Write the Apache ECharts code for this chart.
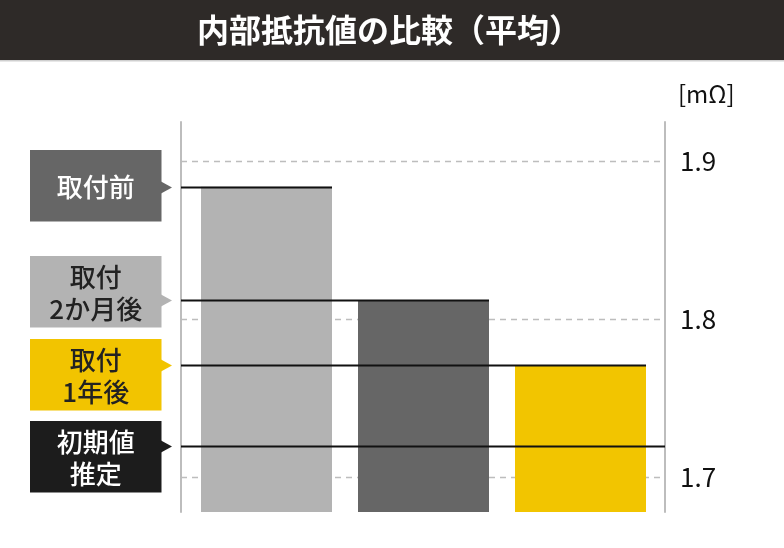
<!DOCTYPE html>
<html>
<head>
<meta charset="utf-8">
<script src="https://cdn.jsdelivr.net/npm/echarts@6/dist/echarts.min.js"></script>
<style>
html,body{margin:0;padding:0;background:#fff;}
#main{width:784px;height:548px;}
</style>
</head>
<body>
<div id="main"></div>
<script>
// ---- data ----
const titleText = '内部抵抗値の比較（平均）';
const categories = ['取付前', '取付2か月後', '取付1年後'];
const values = [1.884, 1.812, 1.771];
const initialValue = 1.72;
const tickValues = [1.7, 1.8, 1.9];
const unitLabel = '[mΩ]';
const boxLabels = ['取付前', '取付\n2か月後', '取付\n1年後', '初期値\n推定'];

// ---- styles ----
const FONT = '"Noto Sans CJK JP", "Noto Sans", sans-serif';
const barColors = ['#b3b3b3', '#666666', '#f2c500'];
const boxColors = ['#666666', '#b3b3b3', '#f2c400', '#1c1c1c'];
const boxTextColors = ['#ffffff', '#222222', '#222222', '#ffffff'];
const boxTops = [150, 256, 339, 421];
const BOX_H = 71.5, BOX_X = 30, BOX_W = 131.5;
const BAR_W = 131;
const LEFT_OFF = 7, RIGHT_OFF = 6;

const chart = echarts.init(document.getElementById('main'));

const graphics = [
  {type:'rect', shape:{x:0,y:0,width:784,height:60}, style:{fill:'#2e2a28'}, z:0},
  {type:'rect', shape:{x:0,y:60,width:784,height:1.5}, style:{fill:'#cfcfcf'}, z:0},
  {type:'text', x:389, y:30, style:{text:titleText, fill:'#ffffff', font:'bold 32px ' + FONT, align:'center', verticalAlign:'middle'}, z:1}
];
boxLabels.forEach((t, i) => {
  graphics.push({type:'rect', shape:{x:BOX_X, y:boxTops[i], width:BOX_W, height:BOX_H}, style:{fill:boxColors[i]}, z:1});
  graphics.push({type:'text', x:BOX_X + BOX_W/2, y:boxTops[i] + BOX_H/2 + 1,
    style:{text:t, fill:boxTextColors[i], font:'500 26px ' + FONT, align:'center', verticalAlign:'middle', lineHeight:32}, z:2});
});

const refData = values.map((v, i) => [i, v, i]);
refData.push([0, initialValue, 3]);

chart.setOption({
  animation: false,
  graphic: graphics,
  grid: {left: 188, right: 125, top: 122, bottom: 36},
  xAxis: {
    type: 'category', data: categories,
    axisLine: {show:false}, axisTick: {show:false}, axisLabel: {show:false}, splitLine:{show:false}
  },
  yAxis: [{
    type: 'value', position: 'right', offset: RIGHT_OFF, min: 1.678, max: 1.925,
    name: unitLabel, nameLocation: 'end', nameGap: 16,
    nameTextStyle: {align:'left', fontSize:24, color:'#111', fontFamily: FONT, padding:[0,0,0,13]},
    axisLine: {show:true, lineStyle:{color:'#bdbdbd', width:2}},
    axisTick: {show:false},
    splitLine: {show:false},
    axisLabel: {customValues: tickValues, formatter: v => v.toFixed(1), fontSize: 26, color:'#111', fontFamily: FONT, margin: 15}
  }, {
    type: 'value', position: 'left', offset: LEFT_OFF, min: 1.678, max: 1.925,
    axisLine: {show:true, lineStyle:{color:'#bdbdbd', width:2}},
    axisTick: {show:false}, axisLabel: {show:false}, splitLine: {show:false}
  }],
  series: [
    {
      type: 'custom', z: 1, silent: true,
      data: tickValues.map(v => [0, v]),
      encode: {x: 0, y: 1},
      renderItem: (params, api) => {
        const cs = params.coordSys;
        const y = Math.round(api.coord([0, api.value(1)])[1]) + 0.5;
        return {type:'line', shape:{x1:cs.x - LEFT_OFF, y1:y, x2:cs.x+cs.width + RIGHT_OFF, y2:y},
          style:{stroke:'#bdbdbd', lineWidth:1.5, lineDash:[6,5]}};
      }
    },
    {
      type: 'bar', z: 2, barWidth: BAR_W, silent: true,
      data: values.map((v, i) => ({value: v, itemStyle: {color: barColors[i]}}))
    },
    {
      type: 'custom', z: 3, silent: true,
      data: refData,
      encode: {x: 0, y: 1},
      renderItem: (params, api) => {
        const cs = params.coordSys;
        const idx = api.value(2);
        const p = api.coord([api.value(0), api.value(1)]);
        const y = Math.round(p[1]) + 0.5;
        const x0 = cs.x - LEFT_OFF;
        const xEnd = idx === 3 ? cs.x + cs.width + RIGHT_OFF : p[0] + BAR_W / 2;
        return {type:'group', children:[
          {type:'line', shape:{x1:x0, y1:y, x2:xEnd, y2:y}, style:{stroke:'#111', lineWidth:2}},
          {type:'polygon', shape:{points:[[x0-20, y-6],[x0-9, y],[x0-20, y+6]]}, style:{fill: boxColors[idx]}}
        ]};
      }
    }
  ]
});
</script>
</body>
</html>
